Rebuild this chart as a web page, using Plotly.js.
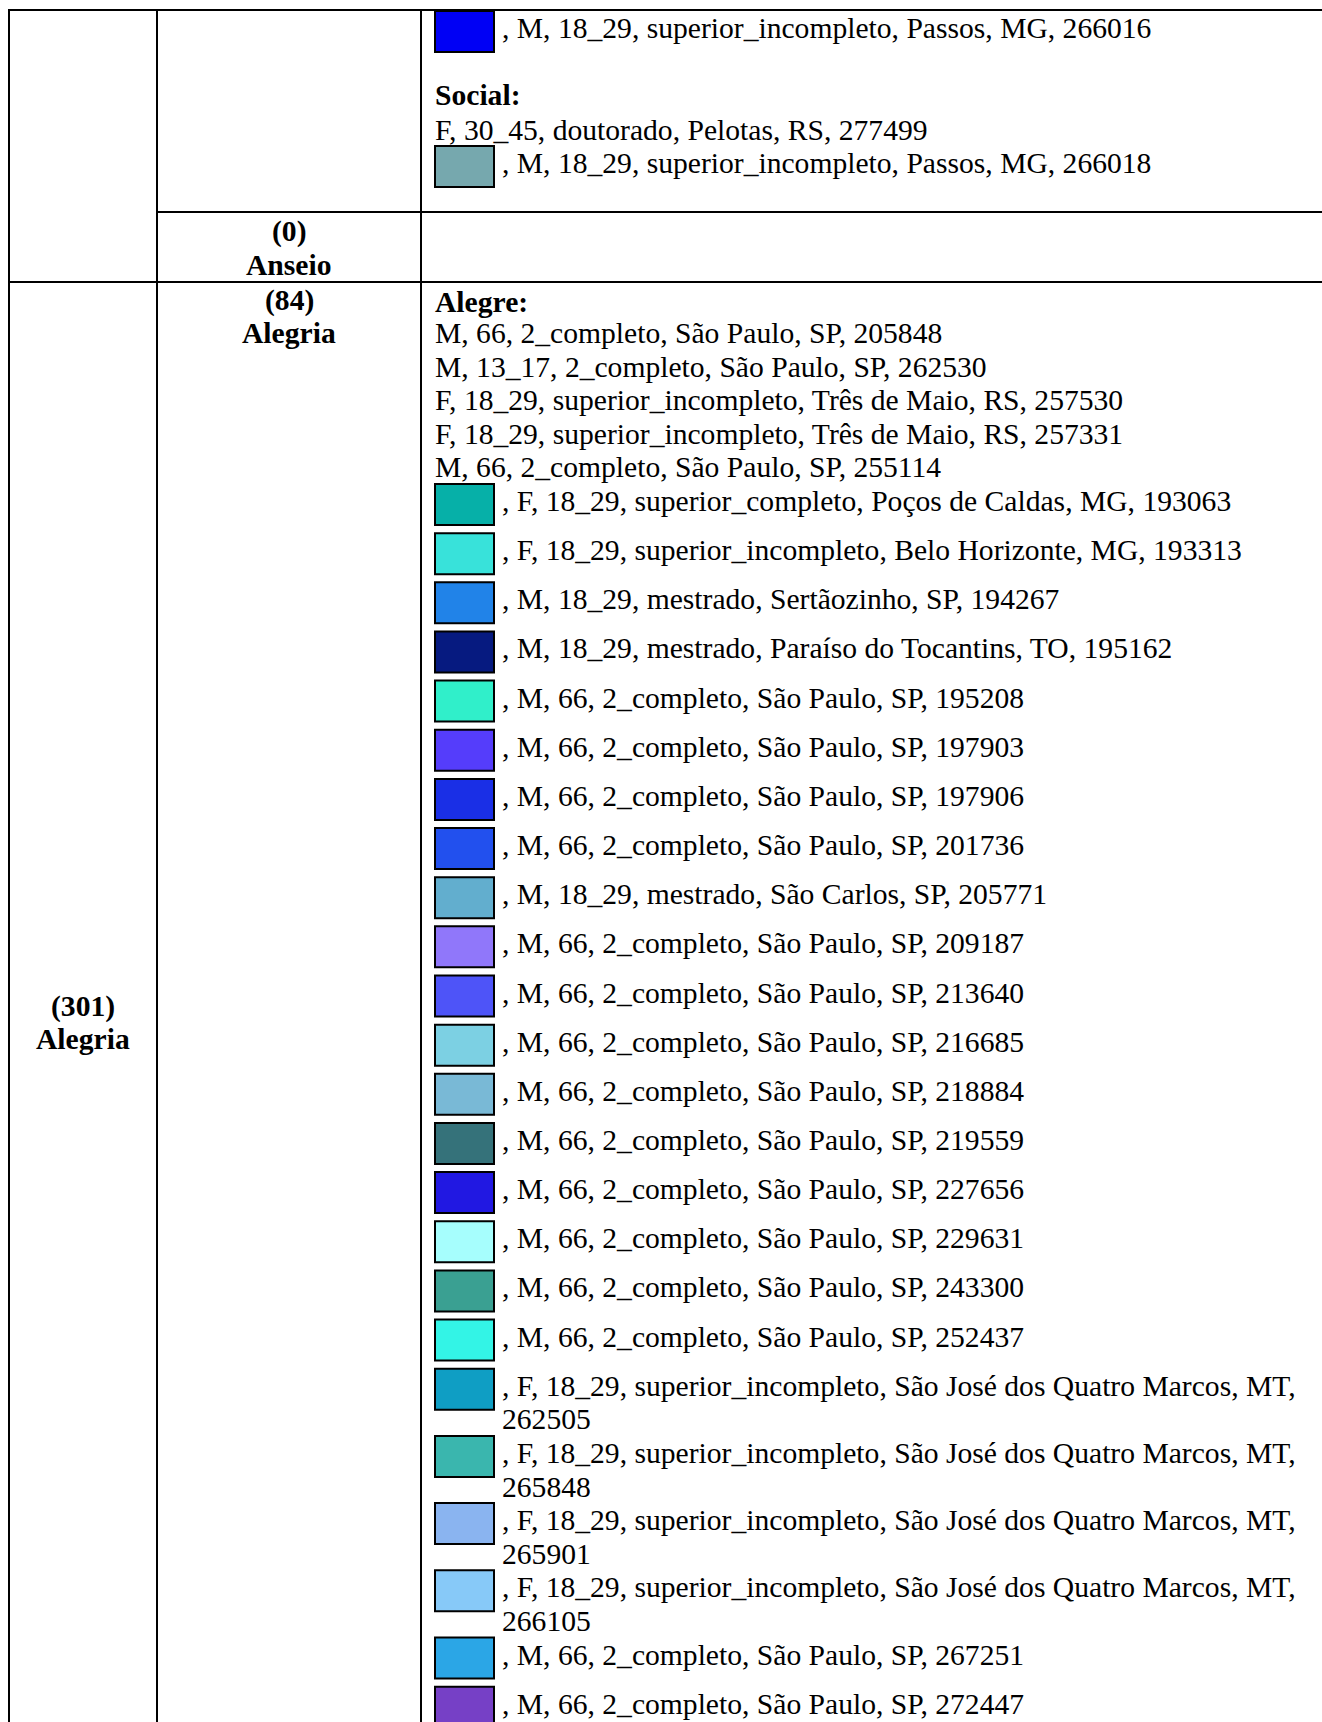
<!DOCTYPE html>
<html>
<head>
<meta charset="utf-8">
<script src="https://cdn.plot.ly/plotly-3.0.1.min.js"></script>
<style>
  html, body { margin: 0; padding: 0; background: #ffffff; }
  #chart { width: 1322px; height: 1722px; }
</style>
</head>
<body>
<div id="chart"></div>
<script>
// ---------------- DATA ----------------
// Group labels of the table
const mainCategories = ["Alegria"];
const mainCounts = [301];
const subCategories = ["Anseio", "Alegria"];
const subCounts = [0, 84];

// Continuation of the previous cell (top of page)
const topSwatchRecords = ["M, 18_29, superior_incompleto, Passos, MG, 266016"];
const topSwatchColors = ["#0000F5"];

// "Social:" block
const socialHeading = "Social:";
const socialPlain = ["F, 30_45, doutorado, Pelotas, RS, 277499"];
const socialSwatchRecords = ["M, 18_29, superior_incompleto, Passos, MG, 266018"];
const socialSwatchColors = ["#76A8AE"];

// "Alegre:" block
const alegreHeading = "Alegre:";
const alegrePlain = [
  "M, 66, 2_completo, São Paulo, SP, 205848",
  "M, 13_17, 2_completo, São Paulo, SP, 262530",
  "F, 18_29, superior_incompleto, Três de Maio, RS, 257530",
  "F, 18_29, superior_incompleto, Três de Maio, RS, 257331",
  "M, 66, 2_completo, São Paulo, SP, 255114"
];
const alegreSwatchRecords = [
  "F, 18_29, superior_completo, Poços de Caldas, MG, 193063",
  "F, 18_29, superior_incompleto, Belo Horizonte, MG, 193313",
  "M, 18_29, mestrado, Sertãozinho, SP, 194267",
  "M, 18_29, mestrado, Paraíso do Tocantins, TO, 195162",
  "M, 66, 2_completo, São Paulo, SP, 195208",
  "M, 66, 2_completo, São Paulo, SP, 197903",
  "M, 66, 2_completo, São Paulo, SP, 197906",
  "M, 66, 2_completo, São Paulo, SP, 201736",
  "M, 18_29, mestrado, São Carlos, SP, 205771",
  "M, 66, 2_completo, São Paulo, SP, 209187",
  "M, 66, 2_completo, São Paulo, SP, 213640",
  "M, 66, 2_completo, São Paulo, SP, 216685",
  "M, 66, 2_completo, São Paulo, SP, 218884",
  "M, 66, 2_completo, São Paulo, SP, 219559",
  "M, 66, 2_completo, São Paulo, SP, 227656",
  "M, 66, 2_completo, São Paulo, SP, 229631",
  "M, 66, 2_completo, São Paulo, SP, 243300",
  "M, 66, 2_completo, São Paulo, SP, 252437",
  "F, 18_29, superior_incompleto, São José dos Quatro Marcos, MT, 262505",
  "F, 18_29, superior_incompleto, São José dos Quatro Marcos, MT, 265848",
  "F, 18_29, superior_incompleto, São José dos Quatro Marcos, MT, 265901",
  "F, 18_29, superior_incompleto, São José dos Quatro Marcos, MT, 266105",
  "M, 66, 2_completo, São Paulo, SP, 267251",
  "M, 66, 2_completo, São Paulo, SP, 272447"
];
const alegreSwatchColors = [
  "#06B0A8", "#38E2DA", "#2183E8", "#061A80", "#30EFCA", "#553DFB",
  "#1A2FE6", "#2250EE", "#62AECE", "#9077FA", "#4E54F8", "#7CD0E3",
  "#79B9D6", "#35727A", "#2118E2", "#A6FEFD", "#3AA092", "#33F4E6",
  "#0F9EC4", "#3AB6AE", "#8AB4F0", "#87C9F8", "#2BA6E6", "#7640C6"
];

// ---------------- LAYOUT CONSTANTS ----------------
const W = 1322, H = 1722;
const FONT = "Liberation Serif, Times New Roman, serif";
const FS = 29.6;
const colLeft = 9, col1 = 157, col2 = 421;
const topLine = 10, anseioTop = 212, alegriaTop = 282;
const textX = 434, afterSwatchX = 501;
const swX0 = 435, swX1 = 494, swUp = 17, swDown = 24;
const plainStep = 33.6, swatchStep = 49.15;
const wrapLimit = 64;

const shapes = [];
const annotations = [];

function addText(x, y, txt, anchor) {
  annotations.push({
    x: x, y: y, xref: "x", yref: "y", text: txt, showarrow: false,
    xanchor: anchor || "left", yanchor: "middle",
    font: { family: FONT, size: FS, color: "#000000" },
    borderpad: 0
  });
}

function addSwatch(yc, color) {
  shapes.push({
    type: "rect", xref: "x", yref: "y",
    x0: swX0, x1: swX1, y0: yc - swUp, y1: yc + swDown,
    fillcolor: color, line: { color: "#000000", width: 2 }, layer: "above"
  });
}

function layoutBlock(startY, headingStep, heading, plain, swRecs, swCols) {
  let y = startY;
  let first = true;
  let prev = "none";
  function next() {
    if (!first) y += prev === "swatch" ? swatchStep : (prev === "heading" ? headingStep : plainStep);
    first = false;
  }
  if (heading) { next(); addText(textX, y, "<b>" + heading + "</b>"); prev = "heading"; }
  plain.forEach(function (p) { next(); addText(textX, y, p); prev = "plain"; });
  swRecs.forEach(function (r, i) {
    next();
    addSwatch(y, swCols[i]);
    const full = ", " + r;
    if (full.length > wrapLimit) {
      const cut = full.lastIndexOf(", ");
      addText(afterSwatchX, y, full.slice(0, cut + 1));
      y += plainStep;
      addText(afterSwatchX, y, full.slice(cut + 2));
      prev = "plain";
    } else {
      addText(afterSwatchX, y, full);
      prev = "swatch";
    }
  });
}

layoutBlock(28, plainStep, null, [], topSwatchRecords, topSwatchColors);
layoutBlock(95, 34.5, socialHeading, socialPlain, socialSwatchRecords, socialSwatchColors);
layoutBlock(302, 31.0, alegreHeading, alegrePlain, alegreSwatchRecords, alegreSwatchColors);

// Category labels
const subLabelY = [[231, 265], [300, 333]];
subCategories.forEach(function (c, i) {
  addText((col1 + col2) / 2, subLabelY[i][0], "<b>(" + subCounts[i] + ")</b>", "center");
  addText((col1 + col2) / 2, subLabelY[i][1], "<b>" + c + "</b>", "center");
});
const mainLabelY = [[1006, 1039]];
mainCategories.forEach(function (c, i) {
  addText((colLeft + col1) / 2, mainLabelY[i][0], "<b>(" + mainCounts[i] + ")</b>", "center");
  addText((colLeft + col1) / 2, mainLabelY[i][1], "<b>" + c + "</b>", "center");
});

// Table rules
function hline(y, x0, x1) {
  shapes.push({ type: "line", xref: "x", yref: "y", x0: x0, x1: x1, y0: y, y1: y,
    line: { color: "#000000", width: 2 }, layer: "above" });
}
function vline(x, y0, y1) {
  shapes.push({ type: "line", xref: "x", yref: "y", x0: x, x1: x, y0: y0, y1: y1,
    line: { color: "#000000", width: 2 }, layer: "above" });
}
hline(topLine, colLeft - 1, W + 5);
hline(anseioTop, col1, W + 5);
hline(alegriaTop, colLeft - 1, W + 5);
vline(colLeft, topLine, H + 5);
vline(col1, topLine, H + 5);
vline(col2, topLine, H + 5);

const data = [{
  x: [0, W], y: [0, H], type: "scatter", mode: "markers",
  marker: { opacity: 0 }, hoverinfo: "skip", showlegend: false
}];

const layout = {
  width: W, height: H,
  margin: { l: 0, r: 0, t: 0, b: 0, pad: 0 },
  paper_bgcolor: "#ffffff", plot_bgcolor: "#ffffff",
  xaxis: { range: [0, W], visible: false, fixedrange: true },
  yaxis: { range: [H, 0], visible: false, fixedrange: true },
  showlegend: false,
  shapes: shapes,
  annotations: annotations
};

Plotly.newPlot("chart", data, layout, { staticPlot: true, displayModeBar: false });
</script>
</body>
</html>
